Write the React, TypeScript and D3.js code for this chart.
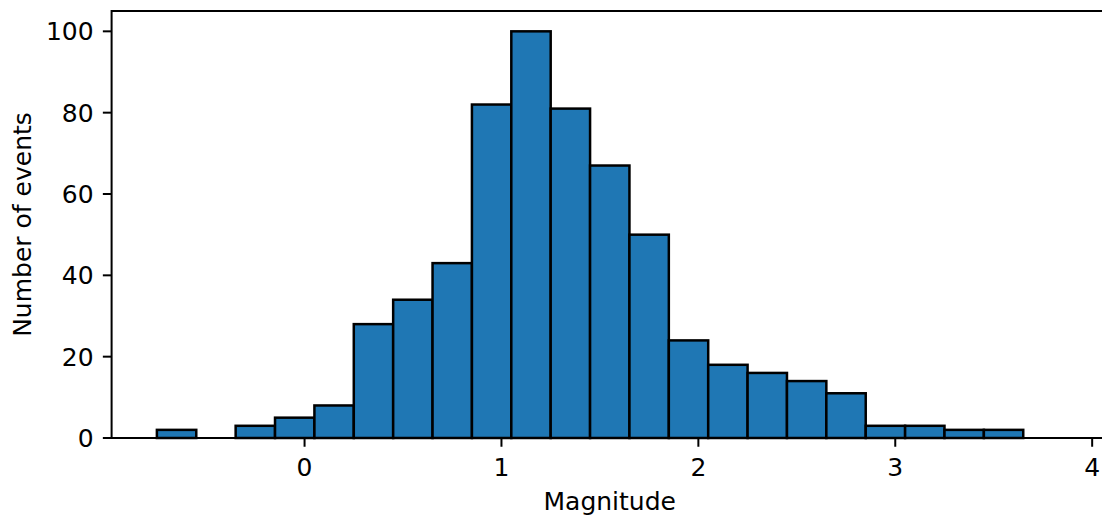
import React from "react";
import * as d3 from "d3";

const binStart = -0.75;
const binWidth = 0.2;
const counts = [2, 0, 3, 5, 8, 28, 34, 43, 82, 100, 81, 67, 50, 24, 18, 16, 14, 11, 3, 3, 2, 2, 0];
const xTicks = [0, 1, 2, 3, 4];
const yTicks = [0, 20, 40, 60, 80, 100];
const xLabel = "Magnitude";
const yLabel = "Number of events";

const W = 1102;
const H = 519;
const left = 111.6;
const top = 11;
const bottom = 438;
const font = "DejaVu Sans";
const fs = 25;

export default function App() {
  const bins = counts.map((c, i) => ({
    x0: binStart + i * binWidth,
    x1: binStart + (i + 1) * binWidth,
    c,
  }));
  const lo = bins[0].x0;
  const hi = bins[bins.length - 1].x1;
  const pad = (hi - lo) * 0.05;
  const ppu = 196.9;
  const domain: [number, number] = [lo - pad, hi + pad];
  const right = left + (domain[1] - domain[0]) * ppu;
  const x = d3.scaleLinear().domain(domain).range([left, right]);
  const y = d3.scaleLinear().domain([0, 105]).range([bottom, top]);

  return (
    <svg
      width={W}
      height={H}
      style={{ position: "absolute", left: 0, top: 0, background: "#fff" }}
      fontFamily={font}
    >
      <g>
        {bins.map((b, i) => (
          <rect
            key={i}
            x={x(b.x0)}
            y={y(b.c)}
            width={x(b.x1) - x(b.x0)}
            height={y(0) - y(b.c)}
            fill="#1f77b4"
            stroke="#000"
            strokeWidth={2.5}
          />
        ))}
      </g>
      <rect
        x={left}
        y={top}
        width={right - left}
        height={bottom - top}
        fill="none"
        stroke="#000"
        strokeWidth={2}
      />
      {xTicks.map((t) => (
        <g key={t}>
          <line x1={x(t)} x2={x(t)} y1={bottom} y2={bottom + 8.75} stroke="#000" strokeWidth={2} />
          <text x={x(t)} y={bottom + 38} textAnchor="middle" fontSize={fs} fill="#000">
            {t}
          </text>
        </g>
      ))}
      {yTicks.map((t) => (
        <g key={t}>
          <line x1={left - 8.75} x2={left} y1={y(t)} y2={y(t)} stroke="#000" strokeWidth={2} />
          <text
            x={left - 18}
            y={y(t)}
            dy="0.36em"
            textAnchor="end"
            fontSize={fs}
            fill="#000"
          >
            {t}
          </text>
        </g>
      ))}
      <text x={(left + right) / 2} y={510} textAnchor="middle" fontSize={fs} fill="#000">
        {xLabel}
      </text>
      <text
        transform={`translate(31, ${(top + bottom) / 2}) rotate(-90)`}
        textAnchor="middle"
        fontSize={fs}
        fill="#000"
      >
        {yLabel}
      </text>
    </svg>
  );
}
